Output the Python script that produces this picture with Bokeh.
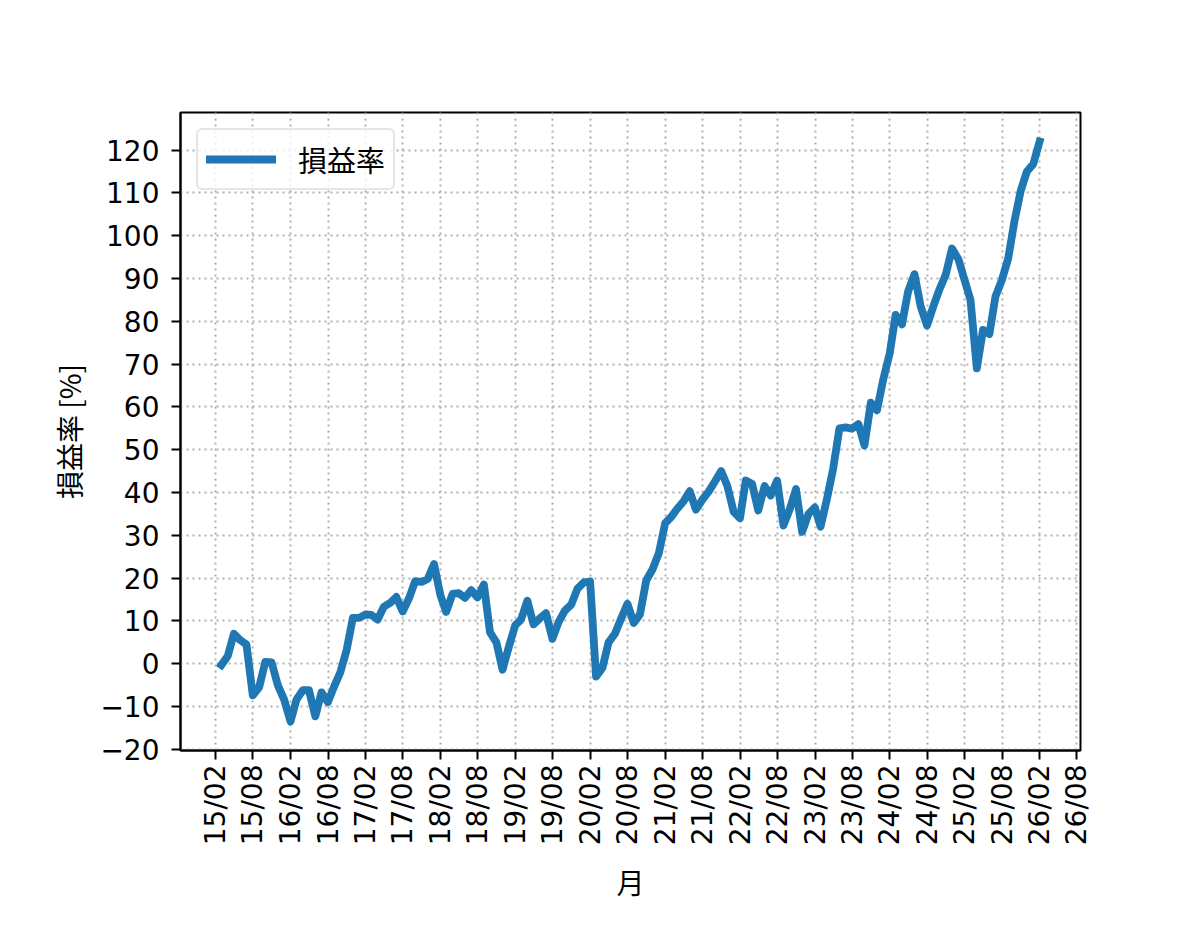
import pandas as pd
from datetime import datetime
from bokeh.plotting import figure
from bokeh.models import FixedTicker, DatetimeTickFormatter, Legend, LegendItem, Range1d
from bokeh.embed import file_html
from bokeh.resources import INLINE

# ---- data ----
start_month = "2015-02-28"
n_months = 132
rate = [
    -0.3, 1.8, 7.0, 5.5, 4.5, -7.4, -5.5, 0.4, 0.3, -5.0,
    -8.4, -13.5, -8.4, -6.2, -6.2, -12.3, -6.7, -9.0, -5.3, -2.0,
    3.3, 10.7, 10.7, 11.5, 11.4, 10.3, 13.3, 14.2, 15.6, 12.2,
    15.3, 19.3, 19.1, 19.8, 23.3, 16.0, 12.1, 16.3, 16.5, 15.4,
    17.2, 15.5, 18.5, 7.3, 5.0, -1.4, 4.0, 9.0, 10.3, 14.7,
    9.2, 10.6, 11.8, 5.8, 9.8, 12.4, 13.8, 17.5, 19.0, 19.2,
    -3.0, -1.0, 5.0, 7.0, 10.5, 14.0, 9.5, 11.5, 19.5, 22.0,
    25.8, 32.8, 34.2, 36.2, 37.9, 40.3, 36.0, 38.3, 40.2, 42.5,
    45.0, 41.6, 35.5, 34.0, 42.8, 42.0, 35.8, 41.5, 39.3, 42.8,
    32.3, 36.0, 40.8, 30.8, 35.0, 36.5, 32.0, 38.5, 45.5, 55.0,
    55.2, 54.9, 56.0, 51.0, 61.0, 59.2, 66.5, 72.5, 81.5, 79.3,
    87.0, 91.0, 83.5, 79.0, 83.5, 87.5, 91.0, 97.0, 94.5, 89.5,
    85.0, 69.0, 78.0, 77.0, 85.8, 89.6, 94.7, 103.3, 110.5, 115.0,
    116.7, 122.0,
]
dates = pd.date_range(start_month, periods=n_months, freq="ME")
y_ticks = list(range(-20, 121, 10))
x_tick_years = list(range(2015, 2027))
x_tick_months = [2, 8]
legend_label = "損益率"
y_label = "損益率 [%]"
x_label = "月"

CJK = "Noto Sans CJK JP"
NUM = "DejaVu Sans"
FS = "28px"

# ranges like matplotlib auto margins (5%)
x0, x1 = dates[0], dates[-1]
xpad = (x1 - x0) * 0.05
ymin, ymax = min(rate), max(rate)
ypad = (ymax - ymin) * 0.05

p = figure(width=1184, height=922, x_axis_type="datetime",
           output_backend="svg", toolbar_location=None,
           x_range=Range1d(x0 - xpad, x1 + xpad),
           y_range=Range1d(ymin - ypad, ymax + ypad),
           min_border_left=180, min_border_right=104,
           min_border_top=112, min_border_bottom=172)
p.background_fill_color = "white"
p.border_fill_color = "white"
p.outline_line_color = "black"
p.outline_line_width = 2

r = p.line(dates, rate, line_color="#1f77b4", line_width=7.8,
           line_join="round", line_cap="square")

# x ticks
xt = []
for yr in x_tick_years:
    for m in x_tick_months:
        xt.append(datetime(yr, m, 1).timestamp() * 1000)
p.xaxis.ticker = FixedTicker(ticks=xt)
fmt = "%y/%m"
p.xaxis.formatter = DatetimeTickFormatter(
    milliseconds=fmt, seconds=fmt, minsec=fmt, minutes=fmt, hourmin=fmt,
    hours=fmt, days=fmt, months=fmt, years=fmt)
p.xaxis.major_label_orientation = 1.5707963
p.yaxis.ticker = FixedTicker(ticks=y_ticks)
p.yaxis.major_label_overrides = {t: (str(t).replace("-", "\u2212")) for t in y_ticks}

for ax in (p.xaxis, p.yaxis):
    ax.axis_line_width = 2
    ax.axis_line_color = "black"
    ax.major_tick_line_width = 2
    ax.major_tick_out = 9
    ax.major_tick_in = 0
    ax.minor_tick_out = 0
    ax.minor_tick_in = 0
    ax.major_label_text_font = NUM
    ax.major_label_text_font_size = FS
    ax.major_label_text_color = "black"
    ax.axis_label_text_font = CJK
    ax.axis_label_text_font_size = FS
    ax.axis_label_text_font_style = "normal"
    ax.axis_label_text_color = "black"

p.xaxis.major_label_standoff = 5
p.yaxis.major_label_standoff = 12
p.xaxis.axis_label = x_label
p.yaxis.axis_label = y_label
p.xaxis.axis_label_standoff = 14
p.yaxis.axis_label_standoff = 8

for g in (p.xgrid, p.ygrid):
    g.grid_line_color = "#b0b0b0"
    g.grid_line_width = 2
    g.grid_line_dash = "2 4"

legend = Legend(items=[LegendItem(label=legend_label, renderers=[r])],
                location="top_left")
legend.label_text_font = CJK
legend.label_text_font_size = "29px"
legend.label_text_color = "black"
legend.border_line_color = "#cccccc"
legend.border_line_width = 2
legend.border_radius = 6
legend.background_fill_alpha = 0.8
legend.glyph_width = 70
legend.glyph_height = 26
legend.label_standoff = 22
legend.padding = 8
legend.margin = 16
legend.spacing = 0
p.add_layout(legend)

open("out.html", "w").write(file_html(p, INLINE))
